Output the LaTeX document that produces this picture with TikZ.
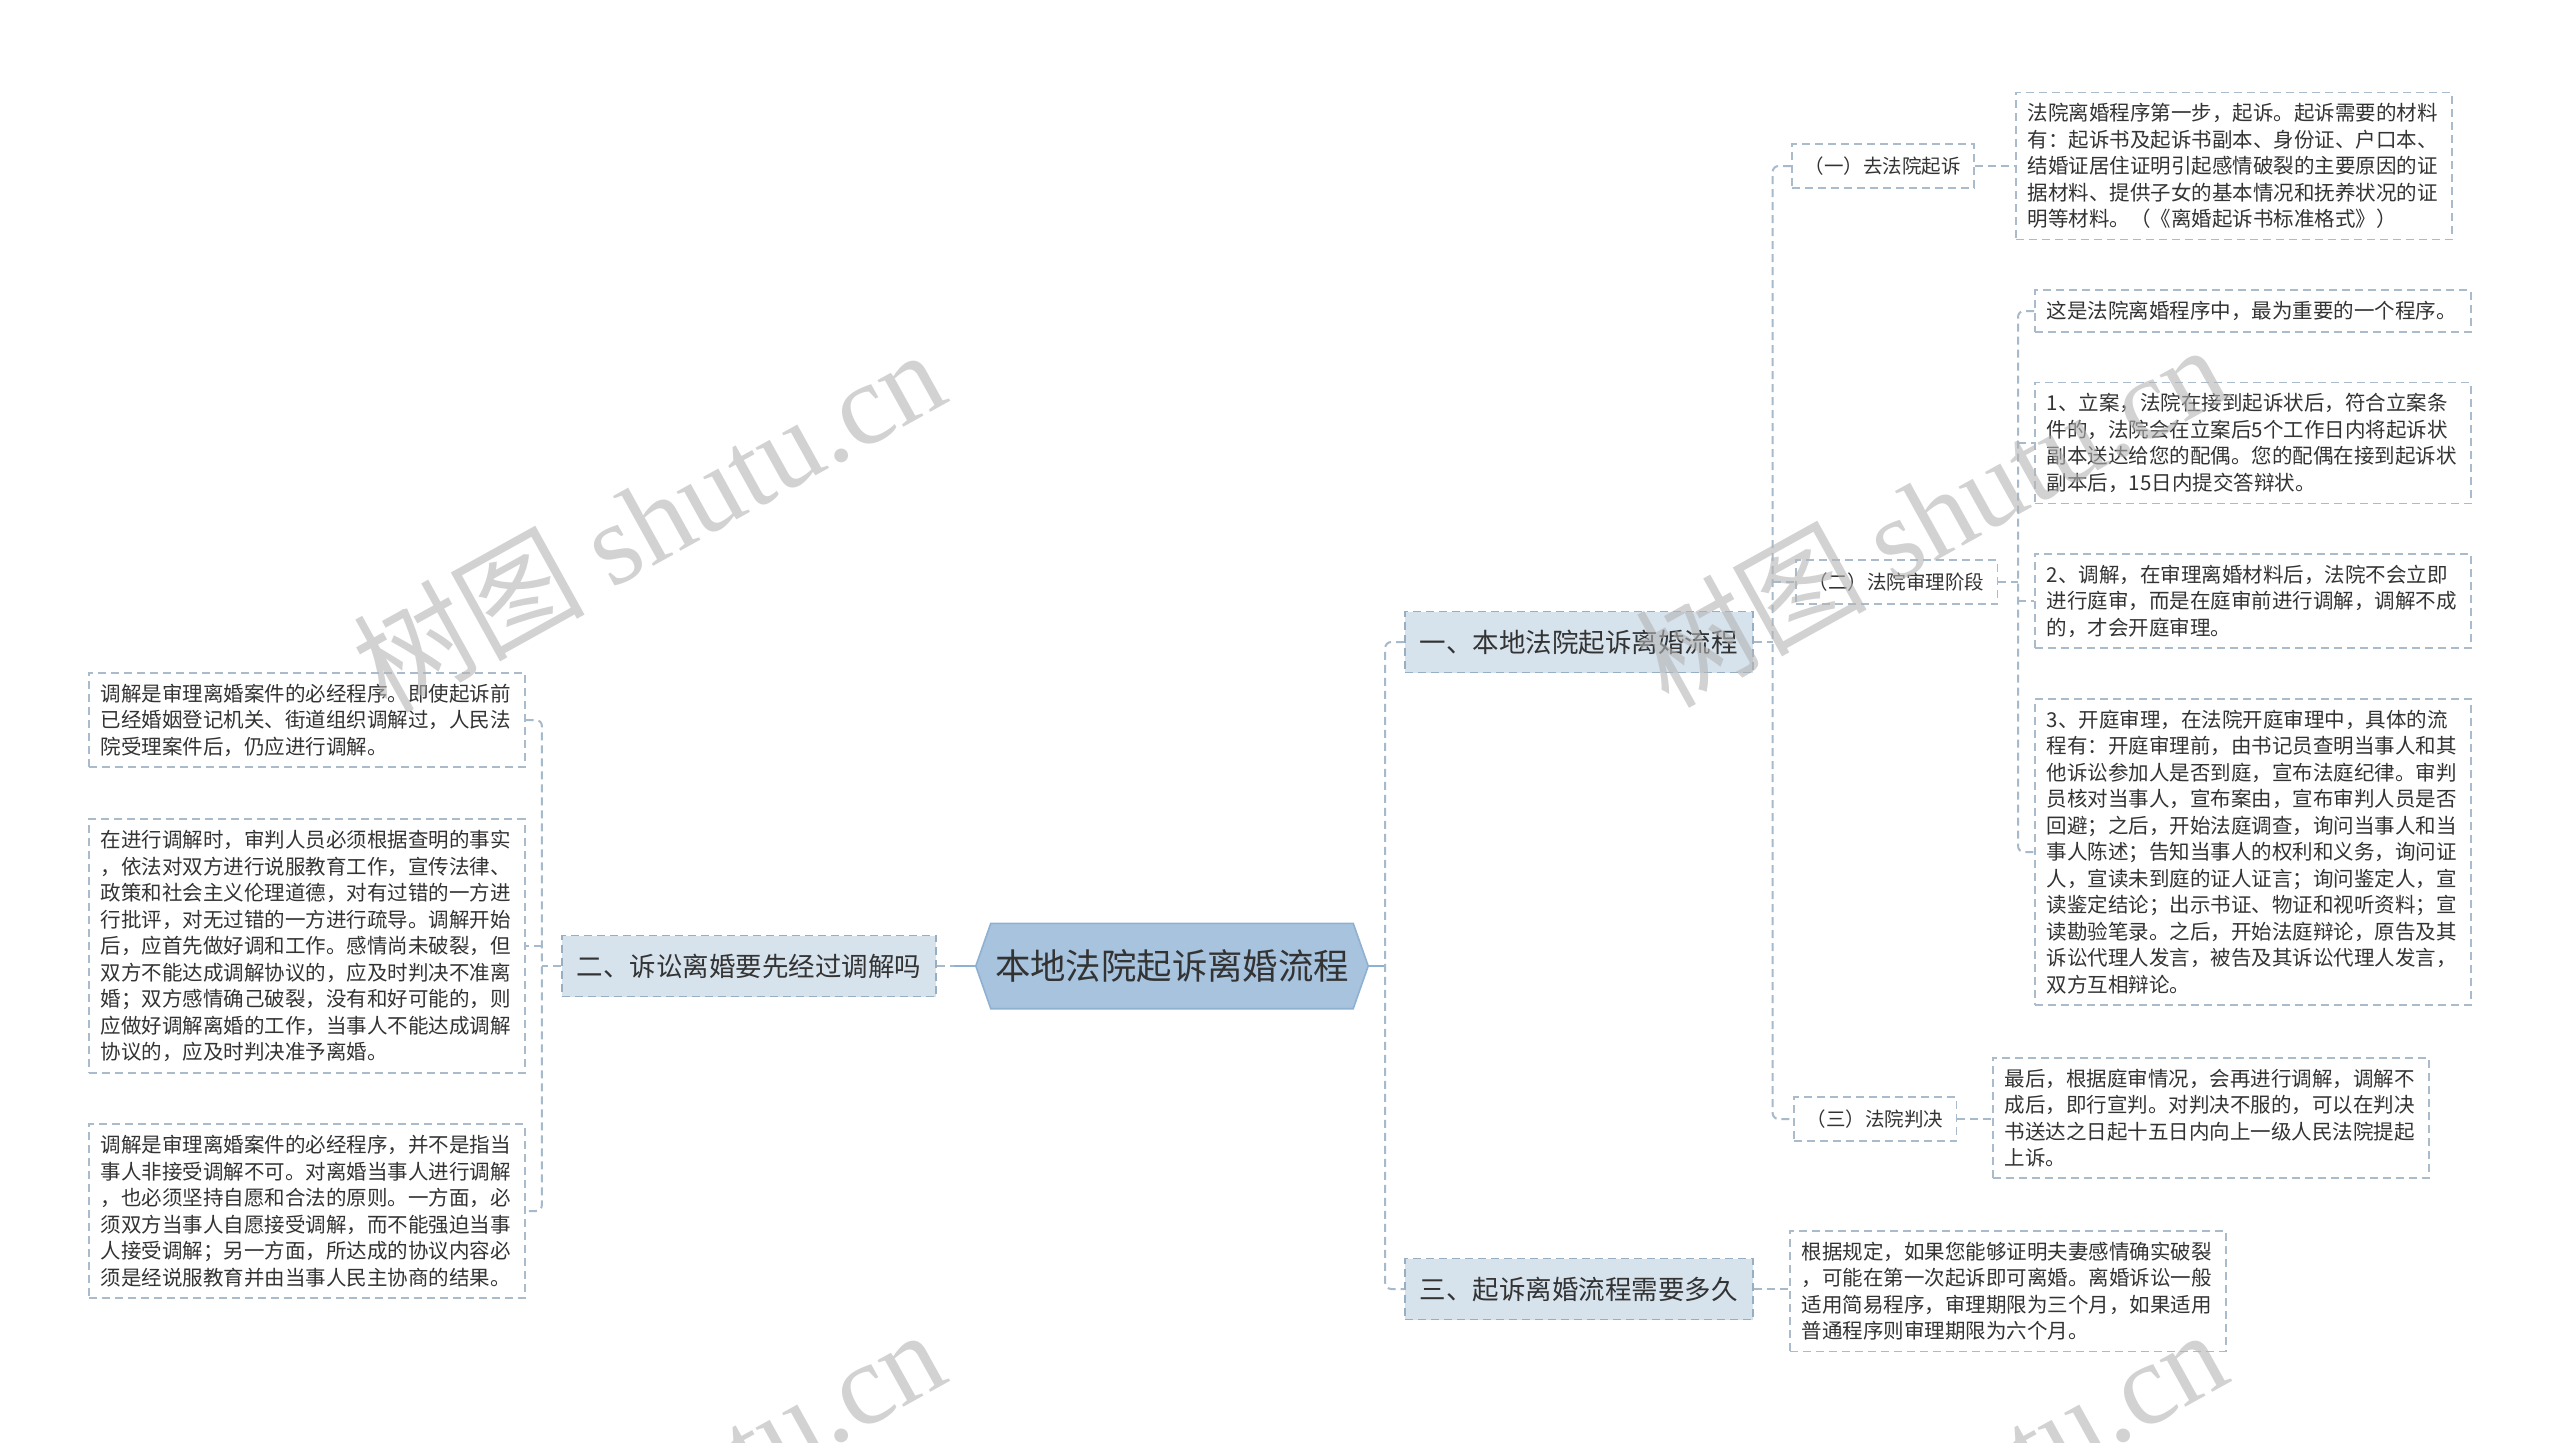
\documentclass[tikz,border=0pt]{standalone}
\usepackage{fontspec}
\setmainfont{Noto Sans CJK SC}
\newfontfamily\wmserif{Liberation Serif}
\usetikzlibrary{backgrounds}
\definecolor{rootfill}{HTML}{A7C3DD}
\definecolor{rootline}{HTML}{8FB1D1}
\definecolor{mainfill}{HTML}{D6E2EC}
\definecolor{mainline}{HTML}{98AFC3}
\definecolor{boxline}{HTML}{AABCCC}
\definecolor{conncol}{HTML}{A6BACB}
\definecolor{txt}{HTML}{333333}
\definecolor{wmcol}{HTML}{B4B4B4}
\begin{document}
\begin{tikzpicture}[x=1pt,y=-1pt,
  conn/.style={draw=conncol, line width=2pt, dash pattern=on 8pt off 5pt, rounded corners=6pt},
  rconn/.style={draw=rootline, line width=2.4pt},
  para/.style={draw=boxline, line width=1.6pt, dash pattern=on 8pt off 5pt, fill=white, text=txt, align=left, text width=412pt, inner xsep=12pt, inner ysep=11pt, font=\fontsize{20.5pt}{26.5pt}\selectfont},
  lab/.style={draw=boxline, line width=1.6pt, dash pattern=on 8pt off 5pt, fill=white, text=txt, inner xsep=13pt, minimum height=44pt, font=\fontsize{19.5pt}{24pt}\selectfont},
  mainbox/.style={draw=mainline, line width=1.6pt, dash pattern=on 8pt off 5pt, fill=mainfill, text=txt, inner xsep=15pt, minimum height=61pt, font=\fontsize{26.5pt}{30pt}\selectfont},
  rootn/.style={minimum width=392pt, minimum height=85pt, inner sep=0pt, text=txt, font=\fontsize{35.4pt}{40pt}\selectfont},
  wm/.style={text=wmcol, opacity=0.6, rotate=29, inner sep=0pt, font=\fontsize{116pt}{120pt}\selectfont}
]
\useasboundingbox (0,0) rectangle (2560,1443);

% root
\node[rootn] (root) at (1172,966) {本地法院起诉离婚流程};

% level 1
\node[mainbox, anchor=west] (b1) at (1404,642) {一、本地法院起诉离婚流程};
\node[mainbox, anchor=west] (b3) at (1404,1289) {三、起诉离婚流程需要多久};
\node[mainbox, anchor=east] (b2) at (937,966) {二、诉讼离婚要先经过调解吗};

% level 2 labels
\node[lab, anchor=west] (a1) at (1791,166) {（一）去法院起诉};
\node[lab, anchor=west] (a2) at (1795,582) {（二）法院审理阶段};
\node[lab, anchor=west] (a3) at (1793,1119) {（三）法院判决};

% paragraphs right
\node[para, anchor=west] (a1c) at (2015,166) {法院离婚程序第一步，起诉。起诉需要的材料\\有：起诉书及起诉书副本、身份证、户口本、\\结婚证居住证明引起感情破裂的主要原因的证\\据材料、提供子女的基本情况和抚养状况的证\\明等材料。（《离婚起诉书标准格式》）};
\node[para, anchor=west] (c1) at (2034,311) {这是法院离婚程序中，最为重要的一个程序。};
\node[para, anchor=west] (c2) at (2034,443) {1、立案，法院在接到起诉状后，符合立案条\\件的，法院会在立案后5个工作日内将起诉状\\副本送达给您的配偶。您的配偶在接到起诉状\\副本后，15日内提交答辩状。};
\node[para, anchor=west] (c3) at (2034,601) {2、调解，在审理离婚材料后，法院不会立即\\进行庭审，而是在庭审前进行调解，调解不成\\的，才会开庭审理。};
\node[para, anchor=west] (c4) at (2034,852) {3、开庭审理，在法院开庭审理中，具体的流\\程有：开庭审理前，由书记员查明当事人和其\\他诉讼参加人是否到庭，宣布法庭纪律。审判\\员核对当事人，宣布案由，宣布审判人员是否\\回避；之后，开始法庭调查，询问当事人和当\\事人陈述；告知当事人的权利和义务，询问证\\人，宣读未到庭的证人证言；询问鉴定人，宣\\读鉴定结论；出示书证、物证和视听资料；宣\\读勘验笔录。之后，开始法庭辩论，原告及其\\诉讼代理人发言，被告及其诉讼代理人发言，\\双方互相辩论。};
\node[para, anchor=west] (a3c) at (1992,1118) {最后，根据庭审情况，会再进行调解，调解不\\成后，即行宣判。对判决不服的，可以在判决\\书送达之日起十五日内向上一级人民法院提起\\上诉。};
\node[para, anchor=west] (b3c) at (1789,1291) {根据规定，如果您能够证明夫妻感情确实破裂\\，可能在第一次起诉即可离婚。离婚诉讼一般\\适用简易程序，审理期限为三个月，如果适用\\普通程序则审理期限为六个月。};

% paragraphs left
\node[para, anchor=west] (l1) at (88,720) {调解是审理离婚案件的必经程序。即使起诉前\\已经婚姻登记机关、街道组织调解过，人民法\\院受理案件后，仍应进行调解。};
\node[para, anchor=west] (l2) at (88,946) {在进行调解时，审判人员必须根据查明的事实\\，依法对双方进行说服教育工作，宣传法律、\\政策和社会主义伦理道德，对有过错的一方进\\行批评，对无过错的一方进行疏导。调解开始\\后，应首先做好调和工作。感情尚未破裂，但\\双方不能达成调解协议的，应及时判决不准离\\婚；双方感情确己破裂，没有和好可能的，则\\应做好调解离婚的工作，当事人不能达成调解\\协议的，应及时判决准予离婚。};
\node[para, anchor=west] (l3) at (88,1211) {调解是审理离婚案件的必经程序，并不是指当\\事人非接受调解不可。对离婚当事人进行调解\\，也必须坚持自愿和合法的原则。一方面，必\\须双方当事人自愿接受调解，而不能强迫当事\\人接受调解；另一方面，所达成的协议内容必\\须是经说服教育并由当事人民主协商的结果。};

% background: white page and root hexagon
\begin{pgfonlayer}{background}
  \fill[white] (0,0) rectangle (2560,1443);
  \path[fill=rootfill, draw=rootline, line width=1.6pt]
    ([xshift=15pt]root.north west) -- ([xshift=-15pt]root.north east) -- (root.east)
    -- ([xshift=-15pt]root.south east) -- ([xshift=15pt]root.south west) -- (root.west) -- cycle;
\end{pgfonlayer}

% connector junctions
\coordinate (rt) at ([xshift=17pt]root.east);
\coordinate (lt) at ([xshift=-19pt]b2.west);
\coordinate (t1) at ([xshift=19pt]b1.east);
\coordinate (t2a) at ([xshift=-16pt]c1.west);
\coordinate (t2) at (t2a |- a2.east);

% root connectors
\draw[conn] (b2.east) -- (root.west);
\draw[rconn] (root.west) -- ++(-22,0);
\draw[rconn] (root.east) -- (rt);
\draw[conn] (b1.west) -| (rt) |- (b3.west);

% left branch
\draw[conn] (b2.west) -- (lt);
\draw[conn] (l1.east) -| (lt) |- (l3.east);
\draw[conn] (lt |- l2.east) -- (l2.east);

% right branch one
\draw[conn] (b1.east) -- (t1);
\draw[conn] (a1.west) -| (t1) |- (a3.west);
\draw[conn] (t1 |- a2.west) -- (a2.west);
\draw[conn] (a1.east) -- (a1c.west);
\draw[conn] (a3.east) -- (a3.east -| a3c.west);
\draw[conn] (a2.east) -- (t2);
\draw[conn] (c1.west) -| (t2) |- (c4.west);
\draw[conn] (t2 |- c2.west) -- (c2.west);
\draw[conn] (t2 |- c3.west) -- (c3.west);

% branch three
\draw[conn] (b3.east) -- (b3.east -| b3c.west);

% watermarks
\begin{scope}
  \clip (0,0) rectangle (2560,1443);
  \node[wm] (w1) at (648,519) {树图 {\wmserif shutu.cn}};
  \node[wm] (w2) at (1930,514) {树图 {\wmserif shutu.cn}};
  \node[wm] (w3) at (648,1499) {树图 {\wmserif shutu.cn}};
  \node[wm] (w4) at (1930,1499) {树图 {\wmserif shutu.cn}};
\end{scope}
\end{tikzpicture}
\end{document}
